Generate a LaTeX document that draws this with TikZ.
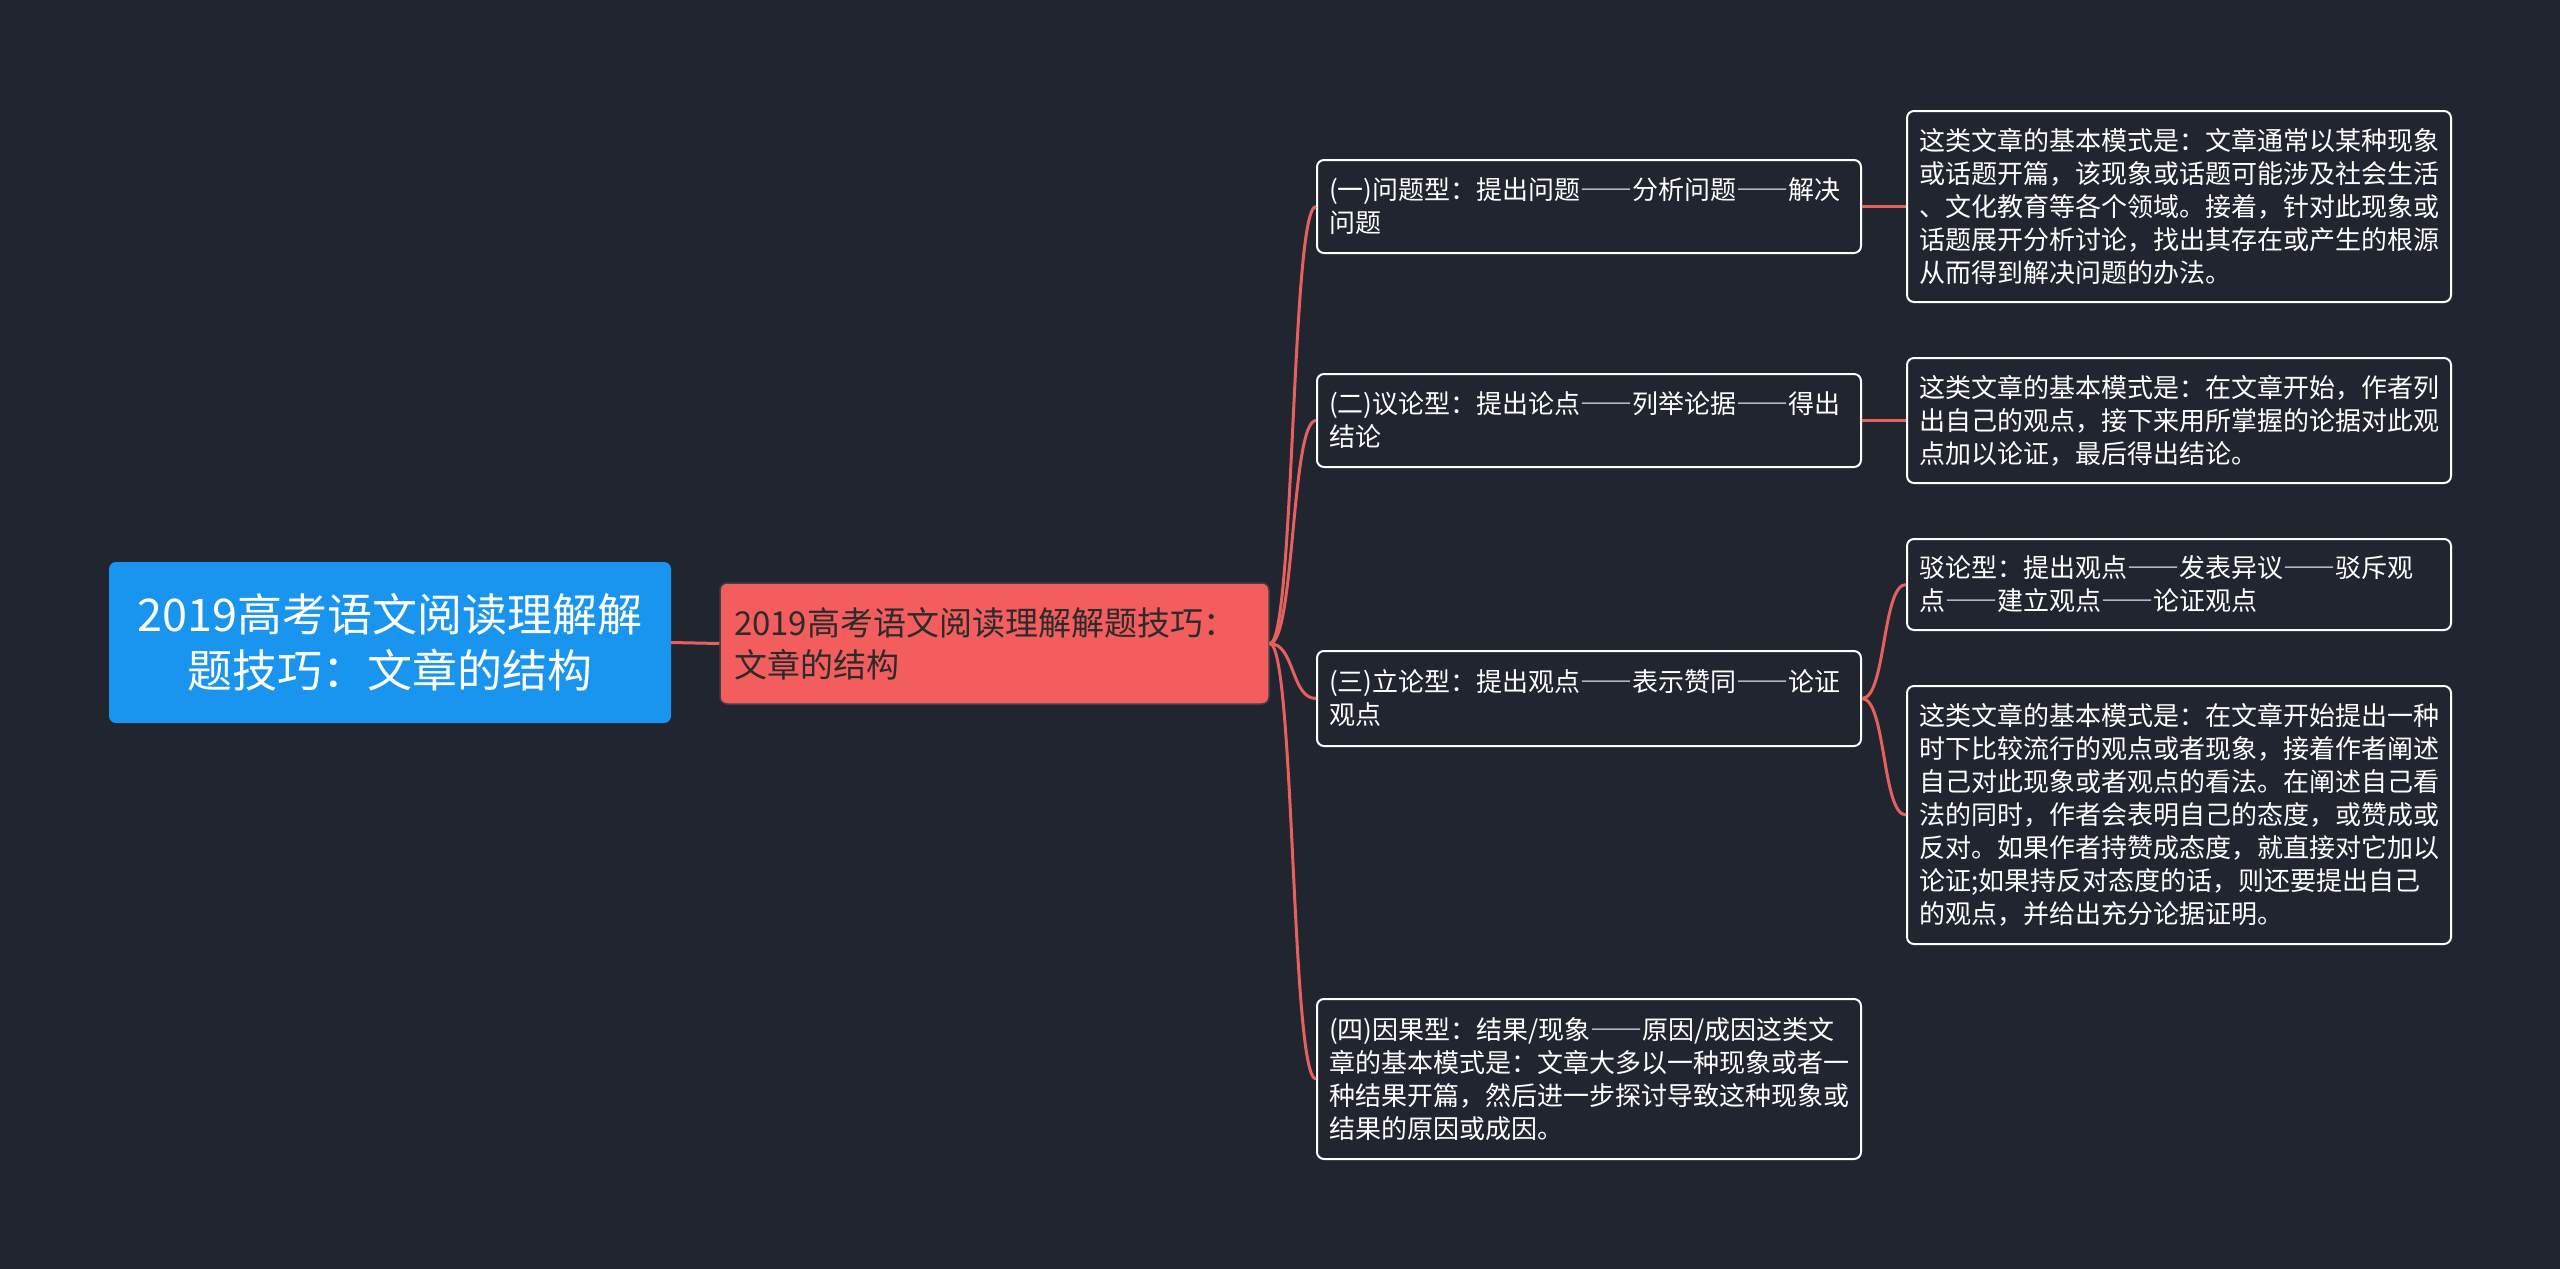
\documentclass[tikz,border=0pt]{standalone}
\usepackage{fontspec}
\setmainfont{Noto Sans CJK SC}
\newfontfamily\fwfont[RawFeature=+fwid]{Noto Sans CJK SC}
\newcommand\dd{{\fwfont ——}}
\definecolor{bg}{HTML}{21252F}
\definecolor{rootblue}{HTML}{1A95EF}
\definecolor{mainred}{HTML}{F45D5D}
\definecolor{linkred}{HTML}{E66060}
\definecolor{textdark}{HTML}{2B2B2B}
\begin{document}
\begin{tikzpicture}[x=1pt,y=-1pt,
  box/.style={draw=white, line width=2pt, rounded corners=7pt, fill=bg, text=white,
    align=left, inner xsep=12pt, inner ysep=0pt, text width=520pt, minimum width=544pt,
    font=\fontsize{26pt}{33pt}\selectfont, anchor=center},
  link/.style={draw=linkred, line width=3pt}]
\fill[bg] (0,0) rectangle (2560,1269);
\useasboundingbox (0,0) rectangle (2560,1269);

\node[fill=rootblue, rounded corners=7pt, minimum width=562pt, minimum height=161pt,
  text=white, align=center, font=\fontsize{45pt}{56pt}\selectfont] (root) at (390,642.5)
  {2019高考语文阅读理解解\\题技巧：文章的结构};

\node[fill=mainred, draw=black!75, line width=1.5pt, rounded corners=7pt, minimum width=549pt,
  minimum height=121pt, text width=521pt, inner xsep=14pt, align=left, text=textdark,
  font=\fontsize{33pt}{42pt}\selectfont] (main) at (994.5,643.5)
  {2019高考语文阅读理解解题技巧：\\文章的结构};

\node[box, minimum height=93pt] (b1) at (1589,206.5)
  {(一)问题型：提出问题\dd 分析问题\dd 解决\\问题};
\node[box, minimum height=93pt] (b2) at (1589,420.5)
  {(二)议论型：提出论点\dd 列举论据\dd 得出\\结论};
\node[box, minimum height=95pt] (b3) at (1589,698.5)
  {(三)立论型：提出观点\dd 表示赞同\dd 论证\\观点};
\node[box, minimum height=160pt] (b4) at (1589,1079)
  {(四)因果型：结果/现象\dd 原因/成因这类文\\章的基本模式是：文章大多以一种现象或者一\\种结果开篇，然后进一步探讨导致这种现象或\\结果的原因或成因。};

\node[box, minimum height=191pt] (l1) at (2179,206.5)
  {这类文章的基本模式是：文章通常以某种现象\\或话题开篇，该现象或话题可能涉及社会生活\\、文化教育等各个领域。接着，针对此现象或\\话题展开分析讨论，找出其存在或产生的根源\\从而得到解决问题的办法。};
\node[box, minimum height=125pt] (l2) at (2179,420.5)
  {这类文章的基本模式是：在文章开始，作者列\\出自己的观点，接下来用所掌握的论据对此观\\点加以论证，最后得出结论。};
\node[box, minimum height=91pt] (l3a) at (2179,584.5)
  {驳论型：提出观点\dd 发表异议\dd 驳斥观\\点\dd 建立观点\dd 论证观点};
\node[box, minimum height=258pt] (l3b) at (2179,815)
  {这类文章的基本模式是：在文章开始提出一种\\时下比较流行的观点或者现象，接着作者阐述\\自己对此现象或者观点的看法。在阐述自己看\\法的同时，作者会表明自己的态度，或赞成或\\反对。如果作者持赞成态度，就直接对它加以\\论证;如果持反对态度的话，则还要提出自己\\的观点，并给出充分论据证明。};

\draw[link] (root.east) -- (main.west);
\foreach \b in {b1,b2,b3,b4}
  \draw[link] (main.east) .. controls +(25,0) and +(-25,0) .. (\b.west);
\draw[link] (b1.east) -- (l1.west);
\draw[link] (b2.east) -- (l2.west);
\draw[link] (b3.east) .. controls +(24,0) and +(-24,0) .. (l3a.west);
\draw[link] (b3.east) .. controls +(24,0) and +(-24,0) .. (l3b.west);
\end{tikzpicture}
\end{document}
